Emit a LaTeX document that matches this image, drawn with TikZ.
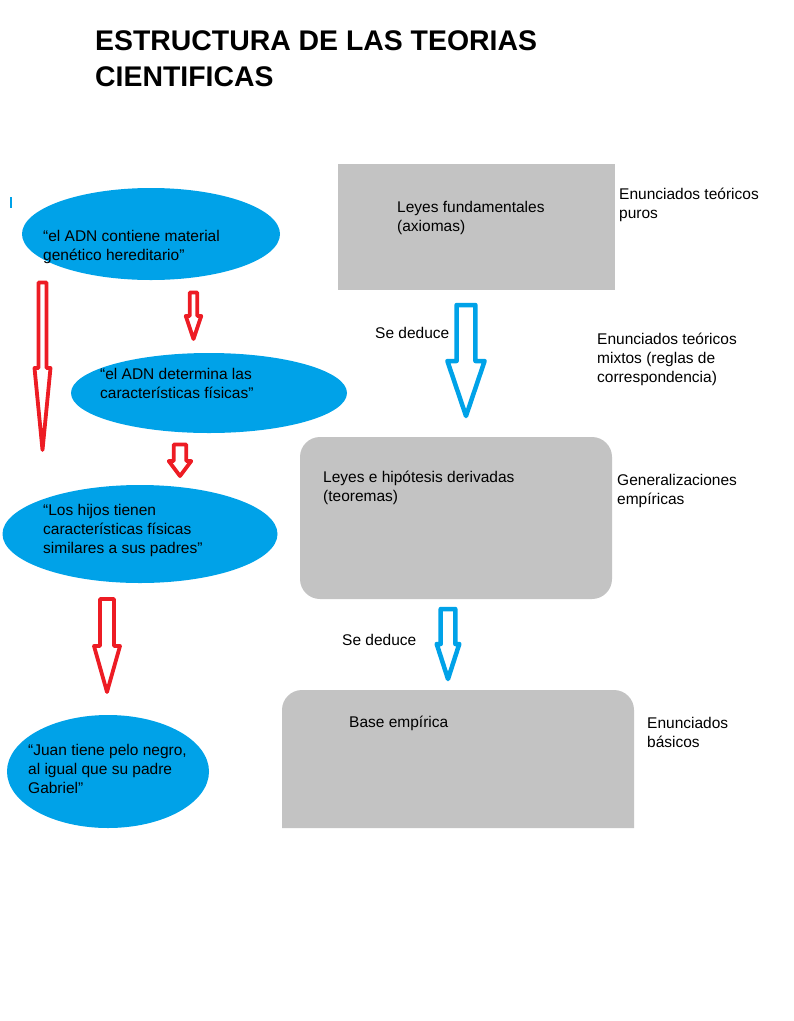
\documentclass[tikz,border=0pt]{standalone}
\usepackage{fontspec}
\setmainfont{Liberation Sans}
\usetikzlibrary{shapes.geometric,calc}
\definecolor{boxgray}{RGB}{195,195,195}
\definecolor{paintblue}{RGB}{0,162,232}
\definecolor{paintred}{RGB}{237,28,36}
\newcommand\blockarrow[8]{%
 % #1 style, #2 name, #3 cx, #4 top, #5 head start, #6 tip, #7 shaft half width, #8 head half width
 \coordinate (#2-s) at (#3,#4);
 \coordinate (#2-e) at (#3,#6);
 \draw[#1] ($(#2-s)+(-#7,0)$) -- ($(#2-s)+(#7,0)$) -- (#3+#7,#5) -- (#3+#8,#5) -- (#2-e) -- (#3-#8,#5) -- (#3-#7,#5) -- cycle;}
\tikzset{
 gbox/.style={fill=boxgray, draw=none},
 bell/.style={ellipse, fill=paintblue, draw=none, inner sep=0pt},
 txt/.style={anchor=north west, inner sep=0pt, align=left, font=\fontsize{15.5}{19}\selectfont},
 ttl/.style={anchor=north west, inner sep=0pt, align=left, font=\fontsize{28.4}{36}\selectfont\bfseries},
 redarrow/.style={draw=paintred, fill=white, line width=3.8pt, line join=round},
 bluearrow/.style={draw=paintblue, fill=white, line width=4.5pt, line join=round},
}
\begin{document}
\begin{tikzpicture}[x=1pt,y=-1pt]
\useasboundingbox (0,0) rectangle (794,1021);
% title
\node[ttl] (title) at (95,30) {ESTRUCTURA DE LAS TEORIAS\\CIENTIFICAS};
% gray boxes
\path[gbox] (338,164) rectangle (615,290);
\node[txt] (b1) at (397,201) {Leyes fundamentales\\(axiomas)};
\path[gbox, rounded corners=20pt] (300,437) rectangle (612,599);
\node[txt] (b2) at (323,471) {Leyes e hipótesis derivadas\\(teoremas)};
\path[gbox] (282,828) -- (282,710) arc[start angle=180, end angle=90, radius=20pt] -- (614,690) arc[start angle=90, end angle=0, radius=20pt] -- (634,828) -- cycle;
\node[txt] (b3) at (349,716) {Base empírica};
% right labels
\node[txt] (l1) at (619,188) {Enunciados teóricos\\puros};
\node[txt] (l2) at (597,333) {Enunciados teóricos\\mixtos (reglas de\\correspondencia)};
\node[txt] (l3) at (617,474) {Generalizaciones\\empíricas};
\node[txt] (l4) at (647,717) {Enunciados\\básicos};
\node[txt] (d1) at (375,327) {Se deduce};
\node[txt] (d2) at (342,634) {Se deduce};
% blue arrows
\blockarrow{bluearrow}{aE}{466}{305}{361}{416}{9.4}{18.6}
\blockarrow{bluearrow}{aF}{448}{609}{644}{679}{7.3}{11.3}
% ellipses
\node[bell, minimum width=258pt, minimum height=92pt] (e1) at (151,234) {};
\node[bell, minimum width=276pt, minimum height=80pt] (e2) at (209,393) {};
\node[bell, minimum width=275pt, minimum height=98pt] (e3) at (140,534) {};
\node[bell, minimum width=202pt, minimum height=113pt] (e4) at (108,771.5) {};
\node[txt] (t1) at (43,230) {“el ADN contiene material\\genético hereditario”};
\node[txt] (t2) at (100,368) {“el ADN determina las\\características físicas”};
\node[txt] (t3) at (43,504) {“Los hijos tienen\\características físicas\\similares a sus padres”};
\node[txt] (t4) at (28,744) {“Juan tiene pelo negro,\\al igual que su padre\\Gabriel”};
% small blue mark
\draw[paintblue, line width=2pt] (11,197) -- (11,208);
% red arrows
\blockarrow{redarrow}{aA}{42.5}{282.5}{368}{450}{4}{8}
\blockarrow{redarrow}{aB}{193.5}{292.5}{316}{339}{3.75}{7.75}
\blockarrow{redarrow}{aC}{180}{444.5}{461}{476}{6.25}{11.25}
\blockarrow{redarrow}{aD}{107}{599}{646}{692}{7}{13}
\end{tikzpicture}
\end{document}
